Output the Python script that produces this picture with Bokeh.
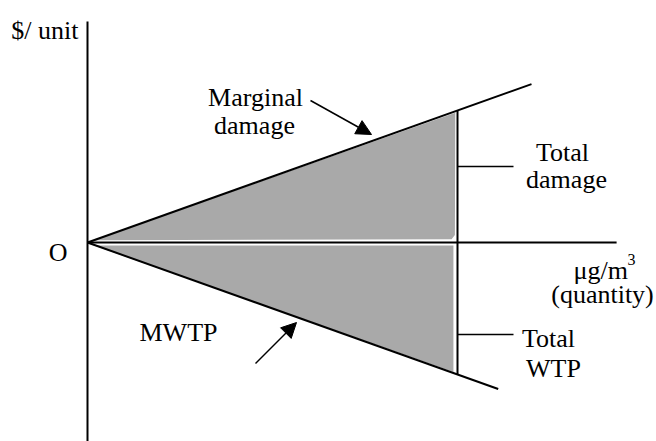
from bokeh.plotting import figure
from bokeh.models import Range1d, Arrow, NormalHead
from bokeh.core.properties import value
from bokeh.embed import file_html
from bokeh.resources import INLINE

# ---- data (economic diagram, arbitrary units) ----
md_q = [0.0, 12.0]        # marginal damage line: quantity
md_v = [0.0, 4.28]        # marginal damage line: $/unit
mwtp_q = [0.0, 11.1]      # MWTP line: quantity
mwtp_v = [0.0, -3.96]     # MWTP line: $/unit (drawn below axis)
q_star = 10.0             # quantity at which totals are measured
x_axis_end = 14.3
y_axis_top = 5.97
y_axis_bottom = -6.0

labels_main = ["$/ unit", "O", "Marginal", "damage", "Total", "damage",
               "\u03bcg/m", "(quantity)", "MWTP", "Total", "WTP"]

md_slope = md_v[1] / md_q[1]
wtp_slope = mwtp_v[1] / mwtp_q[1]

# pixel helpers (37 px per unit, origin at page pixel 87,242)
S = 37.0
def X(px):
    return (px - 87.0) / S
def Y(py):
    return (242.0 - py) / S

OX, OY = 0, 0
W, H = 656, 441
p = figure(width=W, height=H, output_backend="svg", toolbar_location=None,
           x_range=Range1d(X(OX), X(OX + W)), y_range=Range1d(Y(OY + H), Y(OY)),
           x_axis_location=None, y_axis_location=None, min_border=0)
p.grid.visible = False
p.outline_line_color = None
p.background_fill_color = "white"

shade = "#a9a9a9"
# upper shaded area (total damage)
qe = q_star - 0.06
p.patch([0.02, qe, qe - 0.01, qe - 0.1, 0.3],
        [0.01, md_slope * qe - 0.04, 0.2, 0.09, 0.06],
        fill_color=shade, line_color=None)
# lower shaded area (total WTP)
qe2 = q_star - 0.11
p.patch([0.02, 0.3, qe2, qe2],
        [-0.03, -0.08, -0.08, wtp_slope * qe2 + 0.03],
        fill_color=shade, line_color=None)

lw = 2
# axes
p.line([0, 0], [y_axis_bottom, y_axis_top], line_color="black", line_width=lw)
p.line([0, x_axis_end], [0, 0], line_color="black", line_width=lw)
# curves
p.line(md_q, md_v, line_color="black", line_width=lw)
p.line(mwtp_q, mwtp_v, line_color="black", line_width=lw)
# vertical at q*
p.line([q_star, q_star], [wtp_slope * q_star, md_slope * q_star],
       line_color="black", line_width=lw)
# leader ticks
p.line([q_star, X(513)], [Y(166), Y(166)], line_color="black", line_width=1.5)
p.line([q_star, X(513)], [Y(334), Y(334)], line_color="black", line_width=1.5)

# arrows
p.add_layout(Arrow(x_start=X(310), y_start=Y(100), x_end=X(371), y_end=Y(134),
                   line_width=1.5, line_color="black",
                   end=NormalHead(size=15, fill_color="black", line_color="black")))
p.add_layout(Arrow(x_start=X(255), y_start=Y(363), x_end=X(296), y_end=Y(322),
                   line_width=1.5, line_color="black",
                   end=NormalHead(size=15, fill_color="black", line_color="black")))

font = value("Liberation Serif")
fs = "26px"
# (x, y, align)
pos = [(78, 29.5, "right"), (57.7, 252, "center"), (255, 96.7, "center"),
       (254, 124.5, "center"), (562, 151.5, "center"), (566, 179, "center"),
       (573, 270, "left"), (602, 293.5, "center"), (178, 331.5, "center"),
       (548, 338, "center"), (553, 368, "center")]
for (px, py, al), t in zip(pos, labels_main):
    p.text(x=[X(px)], y=[Y(py)], text=[t], text_font=font, text_font_size=fs,
           text_align=al, text_baseline="alphabetic", text_color="black")
# superscript
p.text(x=[X(627)], y=[Y(259)], text=["3"], text_font=font, text_font_size="16px",
       text_align="left", text_baseline="alphabetic", text_color="black")

open("out.html", "w").write(file_html(p, INLINE))
